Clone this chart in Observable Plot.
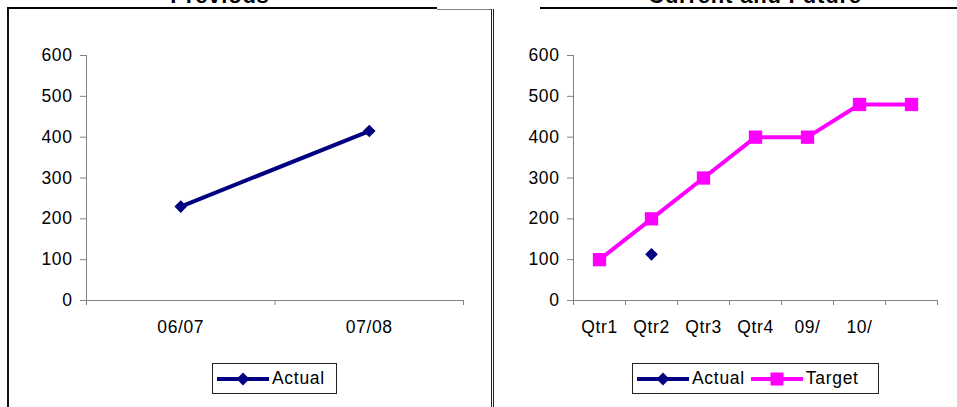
<!DOCTYPE html>
<html>
<head>
<meta charset="utf-8">
<script src="https://cdn.jsdelivr.net/npm/d3@7"></script>
<script src="https://cdn.jsdelivr.net/npm/@observablehq/plot@0.6"></script>
<style>
  html, body { margin: 0; padding: 0; background: #fff; }
  #wrap { position: relative; width: 957px; height: 407px; overflow: hidden; font-family: "Liberation Sans", Arial, sans-serif; color: #000; }
  .abs { position: absolute; }
  .title { position: absolute; top: -15px; font-weight: bold; font-size: 22px; letter-spacing: 0.8px; line-height: 22px; white-space: nowrap; transform: translateX(-50%); }
  .legend { position: absolute; border: 1px solid #222; background: #fff; display: flex; align-items: center; box-sizing: border-box; font-size: 17.5px; letter-spacing: 0.7px; white-space: nowrap; }
  .legend .item { display: flex; align-items: center; margin-left: 4px; margin-right: 2px; }
  .legend svg { display: block; margin-right: 3px; }
</style>
</head>
<body>
<div id="wrap">
  <div class="title" style="left:220px">Previous</div>
  <div class="title" style="left:755px">Current and Future</div>
  <div class="abs" style="left:7px;top:7px;width:430px;height:2px;background:#000"></div>
  <div class="abs" style="left:437px;top:9px;width:54px;height:1px;background:#808080"></div>
  <div class="abs" style="left:540px;top:7px;width:417px;height:2px;background:#000"></div>
  <div class="abs" style="left:7px;top:9px;width:2px;height:400px;background:#111"></div>
  <div class="abs" style="left:491px;top:9px;width:1px;height:400px;background:#222"></div>
  <div class="abs" style="left:493px;top:9px;width:1px;height:400px;background:#222"></div>
  <div id="leftChart" class="abs" style="left:0;top:0"></div>
  <div id="rightChart" class="abs" style="left:495px;top:0"></div>
  <div id="leftLegend" class="legend" style="left:212px;top:363px;width:125px;height:31px"></div>
  <div id="rightLegend" class="legend" style="left:632px;top:363px;width:247px;height:31px"></div>
</div>
<script>
// ---- Data ----
const yTicks = [0, 100, 200, 300, 400, 500, 600];

const prevCategories = ["06/07", "07/08"];
const prevActual = [230, 415];

const curCategories = ["Qtr1", "Qtr2", "Qtr3", "Qtr4", "09/", "10/", ""];
const curActual = [null, 113, null, null, null, null, null];
const curTarget = [100, 200, 300, 400, 400, 480, 480];

const navy = "#000080";
const magenta = "#FF00FF";
const axisGray = "#808080";
const FONT = "'Liberation Sans', Arial, sans-serif";

function rows(cats, vals) {
  return cats.map((c, i) => ({pos: i + 0.5, cat: c, value: vals[i]})).filter(d => d.value != null);
}

function axisMarks(cats) {
  const n = cats.length;
  return [
    Plot.ruleY([0], {stroke: axisGray, strokeWidth: 1}),
    Plot.ruleX([0], {stroke: axisGray, strokeWidth: 1}),
    Plot.axisY({ticks: yTicks, tickSize: 6, tickFormat: () => "", stroke: axisGray, label: null}),
    Plot.axisY({ticks: yTicks, tickSize: 0, tickPadding: 14, fill: "#000", fontSize: 17.5, label: null, tickFormat: d => String(d)}),
    Plot.axisX({ticks: d3.range(n + 1), tickSize: 5, tickFormat: () => "", stroke: axisGray, label: null}),
    Plot.axisX({ticks: cats.map((_, i) => i + 0.5), tickSize: 0, tickPadding: 20, fill: "#000", fontSize: 17.5, label: null,
                tickFormat: d => cats[Math.round(d - 0.5)]})
  ];
}

const leftRows = rows(prevCategories, prevActual);
const leftPlot = Plot.plot({
  width: 490, height: 345,
  marginLeft: 86, marginRight: 27, marginTop: 55, marginBottom: 45,
  x: {type: "linear", domain: [0, prevCategories.length], label: null},
  y: {domain: [0, 600], label: null},
  style: {fontFamily: FONT, fontSize: "17.5px", letterSpacing: "0.6px", background: "transparent", overflow: "visible", color: "#000"},
  marks: [
    ...axisMarks(prevCategories),
    Plot.line(leftRows, {x: "pos", y: "value", stroke: navy, strokeWidth: 4}),
    Plot.dot(leftRows, {x: "pos", y: "value", symbol: "diamond2", r: 5.7, fill: navy, stroke: "none"})
  ]
});
document.getElementById("leftChart").appendChild(leftPlot);

const rightActual = rows(curCategories, curActual);
const rightTarget = rows(curCategories, curTarget);
const rightPlot = Plot.plot({
  width: 462, height: 345,
  marginLeft: 78, marginRight: 20, marginTop: 55, marginBottom: 45,
  x: {type: "linear", domain: [0, curCategories.length], label: null},
  y: {domain: [0, 600], label: null},
  style: {fontFamily: FONT, fontSize: "17.5px", letterSpacing: "0.6px", background: "transparent", overflow: "visible", color: "#000"},
  marks: [
    ...axisMarks(curCategories),
    Plot.line(rightTarget, {x: "pos", y: "value", stroke: magenta, strokeWidth: 4}),
    Plot.dot(rightTarget, {x: "pos", y: "value", symbol: "square", r: 7.5, fill: magenta, stroke: "none"}),
    Plot.line(rightActual, {x: "pos", y: "value", stroke: navy, strokeWidth: 4}),
    Plot.dot(rightActual, {x: "pos", y: "value", symbol: "diamond2", r: 5.7, fill: navy, stroke: "none"})
  ]
});
document.getElementById("rightChart").appendChild(rightPlot);

// ---- Legends ----
const prevSeries = [{name: "Actual", color: navy, symbol: "diamond"}];
const curSeries = [{name: "Actual", color: navy, symbol: "diamond"}, {name: "Target", color: magenta, symbol: "square"}];

function buildLegend(id, series) {
  const box = d3.select("#" + id);
  series.forEach(s => {
    const item = box.append("div").attr("class", "item");
    const svg = item.append("svg").attr("width", 52).attr("height", 16);
    svg.append("line").attr("x1", 0).attr("x2", 52).attr("y1", 8).attr("y2", 8)
      .attr("stroke", s.color).attr("stroke-width", 4);
    if (s.symbol === "diamond") {
      svg.append("path").attr("d", "M26,1.5 L32.5,8 L26,14.5 L19.5,8 Z").attr("fill", s.color);
    } else {
      svg.append("rect").attr("x", 19.5).attr("y", 1.5).attr("width", 13).attr("height", 13).attr("fill", s.color);
    }
    item.append("span").text(s.name);
  });
}
buildLegend("leftLegend", prevSeries);
buildLegend("rightLegend", curSeries);
</script>
</body>
</html>
